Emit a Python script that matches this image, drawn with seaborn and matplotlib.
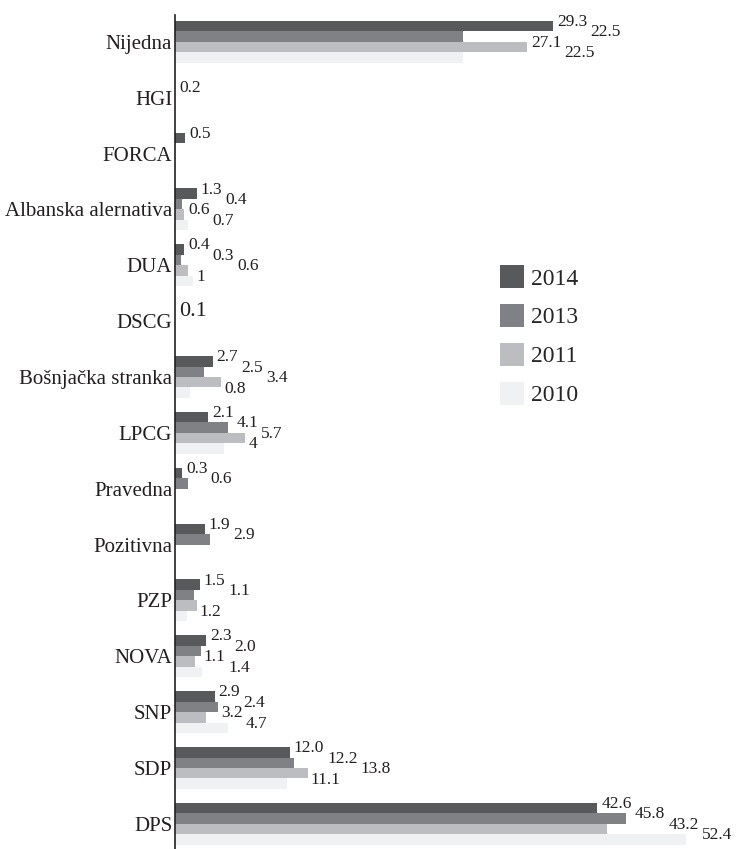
import matplotlib
matplotlib.use("Agg")
import matplotlib.pyplot as plt
from matplotlib.transforms import Bbox
import pandas as pd
import seaborn as sns

# stranke, odozgo prema dolje
parties = ["Nijedna", "HGI", "FORCA", "Albanska alernativa", "DUA", "DSCG",
           "Bošnjačka stranka", "LPCG", "Pravedna", "Pozitivna", "PZP",
           "NOVA", "SNP", "SDP", "DPS"]
years = ["2014", "2013", "2011", "2010"]

# duzine stubaca ocitane sa slike
bars_2014 = [38.2, 0, 1.0, 2.2, 0.9, 0, 3.8, 3.3, 0.7, 3.0, 2.5, 3.1, 4.0, 11.6, 42.7]
bars_2013 = [29.1, 0, 0, 0.7, 0.6, 0, 2.9, 5.4, 1.3, 3.5, 1.9, 2.6, 4.4, 12.0, 45.6]
bars_2011 = [35.6, 0, 0, 0.9, 1.3, 0, 4.7, 7.1, 0, 0, 2.2, 2.0, 3.1, 13.4, 43.7]
bars_2010 = [29.1, 0, 0, 1.3, 1.8, 0, 1.5, 5.0, 0, 0, 1.2, 2.7, 5.4, 11.3, 51.7]

# brojevi ispisani uz stupce
labels_2014 = ["29.3", "", "0.5", "1.3", "0.4", "", "2.7", "2.1", "0.3", "1.9", "1.5", "2.3", "2.9", "12.0", "42.6"]
labels_2013 = ["22.5", "0.2", "", "0.4", "0.3", "0.1", "2.5", "4.1", "0.6", "2.9", "1.1", "2.0", "2.4", "12.2", "45.8"]
labels_2011 = ["27.1", "", "", "0.6", "0.6", "", "3.4", "5.7", "", "", "", "1.1", "3.2", "13.8", "43.2"]
labels_2010 = ["22.5", "", "", "0.7", "1", "", "0.8", "4", "", "", "1.2", "1.4", "4.7", "11.1", "52.4"]

colors = ["#58595b", "#808184", "#bcbdc0", "#f0f1f2"]

df = pd.DataFrame({
    "party": parties * 4,
    "year": [y for y in years for _ in parties],
    "value": bars_2014 + bars_2013 + bars_2011 + bars_2010,
})

sns.set_style("white")
plt.rcParams["font.family"] = ["Liberation Serif", "DejaVu Serif"]

fig = plt.figure(figsize=(7.42, 8.49), dpi=100)
ax = fig.add_axes([0.2358, 0.0, 0.7466, 0.9823])

sns.barplot(data=df, y="party", x="value", hue="year", order=parties,
            hue_order=years, palette=colors, orient="h", width=0.75,
            saturation=1, linewidth=0, ax=ax)

ax.set_xlim(0, 56)
ax.set_ylim(14.45, -0.48)
ax.set_xlabel("")
ax.set_ylabel("")
ax.set_xticks([])
ax.tick_params(axis="y", length=0, pad=2, labelsize=15, labelcolor="#231f20")
for s in ["top", "right", "bottom"]:
    ax.spines[s].set_visible(False)
ax.spines["left"].set_color("#231f20")
ax.spines["left"].set_linewidth(1.2)

all_labels = [labels_2014, labels_2013, labels_2011, labels_2010]
all_texts = []
for cont, labs in zip(ax.containers, all_labels):
    texts = ax.bar_label(cont, labels=labs, padding=3, fontsize=12.5, color="#231f20")
    for t in texts:
        ox, oy = t.xyann
        t.xyann = (ox, oy + 3)
        if t.get_text() == "0.1":
            t.set_fontsize(16)
    all_texts.append(texts)

# razmakni natpise da ne padaju jedan na drugi ni na susjedne stupce
fig.canvas.draw()
renderer = fig.canvas.get_renderer()
px_to_pt = 72.0 / fig.dpi
for i in range(len(parties)):
    bar_boxes = [c.patches[i].get_window_extent(renderer) for c in ax.containers
                 if c.patches[i].get_width() > 0]
    placed = []
    for texts in all_texts:
        t = texts[i]
        if not t.get_text():
            continue
        for _ in range(6):
            bb = t.get_window_extent(renderer)
            h = bb.height
            ink = Bbox([[bb.x0, bb.y0 + 0.28 * h], [bb.x1, bb.y1 - 0.28 * h]])
            hits = [pb for pb in placed if bb.overlaps(pb)]
            hits += [b for b in bar_boxes if ink.overlaps(b)]
            if not hits:
                break
            right = max(b.x1 for b in hits)
            ox, oy = t.xyann
            t.xyann = (ox + (right - bb.x0 + 3) * px_to_pt, oy)
        placed.append(t.get_window_extent(renderer))

handles, labs = ax.get_legend_handles_labels()
ax.legend(handles, labs, frameon=False, loc="upper left",
          bbox_to_anchor=(0.674, 0.688), bbox_transform=fig.transFigure,
          fontsize=17, handlelength=1.0, handleheight=1.15,
          labelspacing=0.6, handletextpad=0.3, borderpad=0, borderaxespad=0)

fig.savefig("out.png", dpi=100)
